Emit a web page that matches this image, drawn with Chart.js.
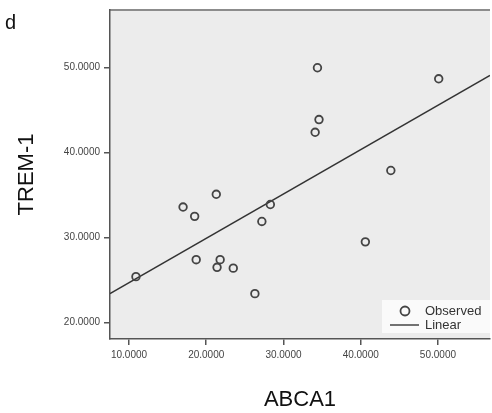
<!DOCTYPE html>
<html>
<head>
<meta charset="utf-8">
<script src="https://cdn.jsdelivr.net/npm/chart.js@4"></script>
<style>
  html, body { margin: 0; padding: 0; background: #fff; }
</style>
</head>
<body>
<canvas id="scatterChart" width="492" height="413"></canvas>
<script>
const abca1 = [10.9, 17.0, 18.5, 18.7, 21.3, 21.4, 21.8, 23.5, 26.3, 27.2, 28.3, 34.1, 34.4, 34.6, 40.6, 43.9, 50.1];
const trem1 = [25.4, 33.6, 32.5, 27.4, 35.1, 26.5, 27.4, 26.4, 23.4, 31.9, 33.9, 42.4, 50.0, 43.9, 29.5, 37.9, 48.7];

// fitted line, end points at the plot edges
const fitX = [7.54, 56.74];
const fitY = [23.4, 49.1];

const xTicks = [10, 20, 30, 40, 50];
const yTicks = [20, 30, 40, 50];

const points = abca1.map((v, i) => ({ x: v, y: trem1[i] }));
const fitLine = fitX.map((v, i) => ({ x: v, y: fitY[i] }));

// grey plot background + top border, panel letter, legend box
const panelPlugin = {
    id: 'panelPlugin',
    beforeDraw(chart) {
        const { ctx, chartArea: a } = chart;
        ctx.save();
        ctx.fillStyle = '#ececec';
        ctx.fillRect(a.left, a.top, a.right - a.left, a.bottom - a.top);
        ctx.strokeStyle = '#8c8c8c';
        ctx.lineWidth = 2;
        ctx.beginPath();
        ctx.moveTo(a.left, a.top);
        ctx.lineTo(a.right, a.top);
        ctx.stroke();
        ctx.restore();
    },
    afterDraw(chart) {
        const { ctx, chartArea: a } = chart;
        ctx.save();
        ctx.fillStyle = '#111';
        ctx.font = '20px "Liberation Sans", Arial, sans-serif';
        ctx.textBaseline = 'alphabetic';
        ctx.fillText('d', 5, 29);

        // legend
        const bx = a.right - 108, by = a.bottom - 39;
        ctx.fillStyle = '#fafafa';
        ctx.fillRect(bx, by, 108, 33);
        ctx.strokeStyle = '#444';
        ctx.lineWidth = 1.8;
        ctx.beginPath();
        ctx.arc(bx + 23, by + 11, 4.5, 0, Math.PI * 2);
        ctx.stroke();
        ctx.lineWidth = 1.5;
        ctx.beginPath();
        ctx.moveTo(bx + 8, by + 25);
        ctx.lineTo(bx + 37, by + 25);
        ctx.stroke();
        ctx.fillStyle = '#333';
        ctx.font = '13px "Liberation Sans", Arial, sans-serif';
        ctx.textBaseline = 'middle';
        ctx.fillText('Observed', bx + 43, by + 11);
        ctx.fillText('Linear', bx + 43, by + 25);
        ctx.restore();
    }
};

const ctx = document.getElementById('scatterChart').getContext('2d');

new Chart(ctx, {
    type: 'scatter',
    data: {
        datasets: [
            {
                label: 'Observed',
                data: points,
                pointStyle: 'circle',
                pointRadius: 3.8,
                pointBorderWidth: 1.8,
                borderColor: '#444',
                backgroundColor: 'rgba(0,0,0,0)',
                order: 1
            },
            {
                label: 'Linear',
                data: fitLine,
                showLine: true,
                pointRadius: 0,
                borderColor: '#333',
                borderWidth: 1.5,
                order: 2
            }
        ]
    },
    options: {
        responsive: false,
        animation: false,
        devicePixelRatio: 1,
        layout: { autoPadding: false, padding: { top: 10, right: 2, left: 0, bottom: 0 } },
        plugins: {
            legend: { display: false },
            tooltip: { enabled: false }
        },
        scales: {
            x: {
                type: 'linear',
                min: 7.54,
                max: 56.74,
                afterFit: (scale) => { scale.height = 74; },
                afterBuildTicks: (scale) => { scale.ticks = xTicks.map(v => ({ value: v })); },
                grid: { drawOnChartArea: false, drawTicks: true, tickLength: 6, color: '#555', lineWidth: 1.5 },
                border: { display: true, color: '#555', width: 1.5 },
                ticks: {
                    padding: 4,
                    color: '#444',
                    font: { family: '"Liberation Sans", Arial, sans-serif', size: 10 },
                    callback: (v) => Number(v).toFixed(4)
                },
                title: {
                    display: true,
                    text: 'ABCA1',
                    color: '#111',
                    font: { family: '"Liberation Sans", Arial, sans-serif', size: 22 },
                    padding: { top: 0, bottom: 0 }
                }
            },
            y: {
                type: 'linear',
                min: 18.06,
                max: 56.8,
                afterFit: (scale) => { scale.width = 110; },
                afterBuildTicks: (scale) => { scale.ticks = yTicks.map(v => ({ value: v })); },
                grid: { drawOnChartArea: false, drawTicks: true, tickLength: 6, color: '#555', lineWidth: 1.5 },
                border: { display: true, color: '#555', width: 1.5 },
                ticks: {
                    padding: 4,
                    color: '#444',
                    font: { family: '"Liberation Sans", Arial, sans-serif', size: 10 },
                    callback: (v) => Number(v).toFixed(4)
                },
                title: {
                    display: true,
                    text: 'TREM-1',
                    color: '#111',
                    font: { family: '"Liberation Sans", Arial, sans-serif', size: 22 },
                    padding: { top: 14, bottom: 0 }
                }
            }
        }
    },
    plugins: [panelPlugin]
});
</script>
</body>
</html>
